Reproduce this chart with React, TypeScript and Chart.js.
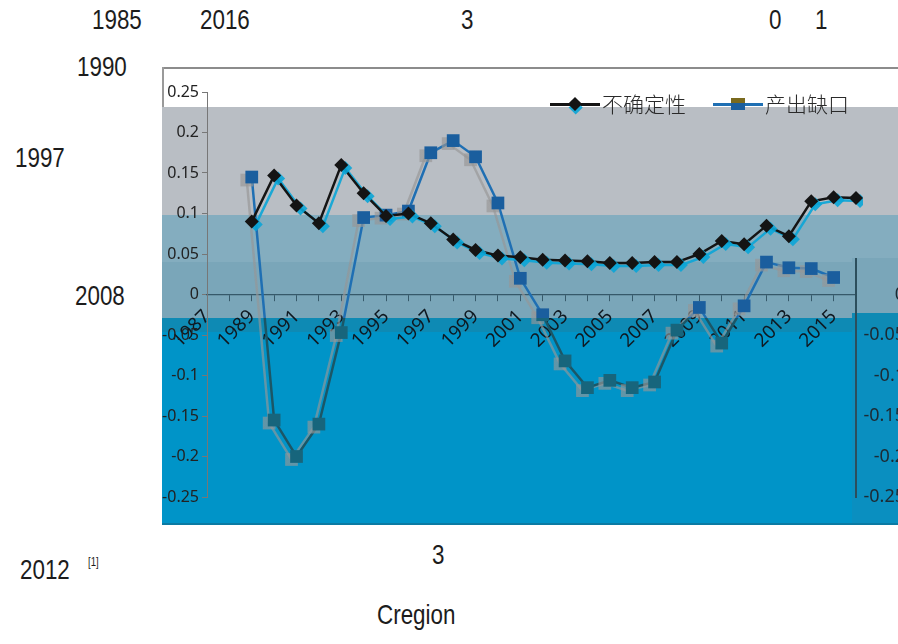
import React, { useEffect, useRef } from "react";
import { Chart, registerables } from "chart.js";

Chart.register(...registerables);

// ---------- data ----------
const years = [
  1987, 1988, 1989, 1990, 1991, 1992, 1993, 1994, 1995, 1996,
  1997, 1998, 1999, 2000, 2001, 2002, 2003, 2004, 2005, 2006,
  2007, 2008, 2009, 2010, 2011, 2012, 2013, 2014, 2015, 2016,
];
const seriesNames = ["不确定性", "产出缺口"];
const uncertainty: (number | null)[] = [
  null, null, 0.09, 0.147, 0.11, 0.088, 0.16, 0.125, 0.097, 0.1,
  0.088, 0.068, 0.055, 0.048, 0.046, 0.043, 0.042, 0.041, 0.039, 0.039,
  0.04, 0.04, 0.05, 0.066, 0.062, 0.085, 0.072, 0.115, 0.12, 0.119,
];
const outputGap: (number | null)[] = [
  null, null, 0.145, -0.155, -0.2, -0.16, -0.047, 0.095, 0.098, 0.103,
  0.175, 0.19, 0.17, 0.113, 0.02, -0.025, -0.082, -0.115, -0.106, -0.115,
  -0.108, -0.044, -0.016, -0.06, -0.014, 0.04, 0.033, 0.032, 0.021, null,
];
const axisMin = -0.25;
const axisMax = 0.25;
const axisStep = 0.05;

const fmt = (v: number) => {
  const r = Math.round(v * 100) / 100;
  return r === 0 ? "0" : String(r);
};

function T(props: { x: number; y: number; size?: number; children: React.ReactNode }) {
  const size = props.size ?? 28;
  return (
    <div
      style={{
        position: "absolute",
        left: props.x,
        top: props.y - size * 0.58,
        fontFamily: '"Liberation Sans", Arial, sans-serif',
        fontSize: size,
        lineHeight: "1.15",
        color: "#1c1c1c",
        whiteSpace: "nowrap",
        transform: "scaleX(0.8)",
        transformOrigin: "left center",
      }}
    >
      {props.children}
    </div>
  );
}

const CANVAS_W = 820;
const CANVAS_H = 457;

export default function App() {
  const ref = useRef<HTMLCanvasElement>(null);

  useEffect(() => {
    const canvas = ref.current;
    if (!canvas) return;
    const ctx = canvas.getContext("2d")!;
    const mk = (stops: [number, string][]) => {
      const g = ctx.createLinearGradient(0, 0, 0, CANVAS_H);
      stops.forEach(([o, c]) => g.addColorStop(o, c));
      return g;
    };
    const split = 250 / CANVAS_H;
    const gapLine = mk([[0, "#1f6fb3"], [split, "#1f6fb3"], [split, "#1b5666"], [1, "#1b5666"]]);
    const gapPoint = mk([[0, "#1a5e9e"], [split, "#1a5e9e"], [split, "#17657c"], [1, "#17657c"]]);
    const rightBorder = mk([[0, "rgba(0,0,0,0)"], [190 / CANVAS_H, "rgba(0,0,0,0)"], [190 / CANVAS_H, "#2c4e5c"], [1, "#2c4e5c"]]);

    const ghost = {
      id: "ghost",
      beforeDatasetDraw(chart: any, args: any) {
        const c = chart.ctx;
        c.save();
        c.shadowBlur = 0;
        if (args.index === 0) {
          c.shadowColor = "rgba(10,165,215,0.9)";
          c.shadowOffsetX = 4;
          c.shadowOffsetY = 3;
        } else {
          c.shadowColor = "rgba(150,150,150,0.65)";
          c.shadowOffsetX = -5;
          c.shadowOffsetY = 3;
        }
      },
      afterDatasetDraw(chart: any) {
        chart.ctx.restore();
      },
    };

    const chart = new Chart(canvas, {
      type: "line",
      data: {
        labels: years.map(String),
        datasets: [
          {
            label: seriesNames[0],
            data: uncertainty,
            yAxisID: "y",
            borderColor: "#141414",
            backgroundColor: "#141414",
            borderWidth: 2.5,
            pointStyle: "rectRot",
            pointRadius: 7,
            pointBackgroundColor: "#141414",
            pointBorderColor: "#141414",
            pointBorderWidth: 0,
            tension: 0,
          },
          {
            label: seriesNames[1],
            data: outputGap,
            yAxisID: "y1",
            borderColor: gapLine as any,
            backgroundColor: gapPoint as any,
            borderWidth: 2.5,
            pointStyle: "rect",
            pointRadius: 9,
            pointBackgroundColor: gapPoint as any,
            pointBorderColor: gapPoint as any,
            pointBorderWidth: 0,
            tension: 0,
          },
        ],
      },
      options: {
        animation: false,
        responsive: false,
        layout: { padding: { left: 0, right: 15, top: 24, bottom: 28 } },
        plugins: {
          legend: { display: false },
          tooltip: { enabled: false },
        },
        scales: {
          x: {
            type: "category",
            position: { y: 0 } as any,
            offset: false,
            grid: { display: true, drawOnChartArea: false, drawTicks: true, tickLength: 6, color: "#36596a" },
            border: { display: true, color: "#36596a", width: 1.2 },
            ticks: {
              autoSkip: false,
              maxRotation: 45,
              minRotation: 45,
              padding: 5,
              color: "#0f1820",
              font: { family: "Noto Sans", size: 19 },
              callback: (_v: any, i: number) => (years[i] % 2 === 1 ? String(years[i]) : ""),
            },
          },
          y: {
            position: "left",
            min: axisMin,
            max: axisMax,
            ticks: {
              stepSize: axisStep,
              color: "#222",
              padding: 3,
              font: { family: "Noto Sans", size: 16 },
              callback: (v: any) => fmt(Number(v)),
            },
            grid: { drawOnChartArea: false, tickLength: 5, color: "#777" },
            border: { display: true, color: "#777", width: 1 },
            afterFit: (s: any) => {
              s.width = 107;
            },
          },
          y1: {
            position: "right",
            min: axisMin,
            max: axisMax,
            ticks: {
              stepSize: axisStep,
              color: "#1d2a33",
              crossAlign: "far",
              padding: 4,
              font: { family: "Noto Sans", size: 18 },
              callback: (v: any) => (Number(v) <= 0.0001 ? fmt(Number(v)) : ""),
            },
            grid: { drawOnChartArea: false, drawTicks: false },
            border: { display: true, color: rightBorder as any, width: 2 },
            afterFit: (s: any) => {
              s.width = 49;
            },
          },
        },
      },
      plugins: [ghost],
    });
    return () => chart.destroy();
  }, []);

  const band = (top: number, height: number, bg: string, left = 162, width = 736) => (
    <div style={{ position: "absolute", left, top, width, height, background: bg }} />
  );

  const legendText: React.CSSProperties = {
    position: "absolute",
    top: 90,
    fontFamily: '"Noto Sans CJK SC", sans-serif',
    fontSize: 21,
    fontWeight: 300,
    lineHeight: "26px",
    color: "#2a2a2a",
    whiteSpace: "nowrap",
  };

  return (
    <div
      style={{
        position: "absolute",
        left: 0,
        top: 0,
        width: 898,
        height: 644,
        overflow: "hidden",
        background: "#ffffff",
      }}
    >
      {/* chart box frame */}
      <div style={{ position: "absolute", left: 162, top: 67, width: 736, height: 2, background: "#8c8c8c" }} />
      <div style={{ position: "absolute", left: 162, top: 67, width: 2, height: 42, background: "#9a9a9a" }} />
      {/* coloured bands */}
      {band(107, 108, "#b9bec4")}
      {band(215, 47, "#84adbf")}
      {band(262, 56, "#7aa6b9")}
      {band(318, 14, "#0e8ab4")}
      {band(332, 193, "#0094c8")}
      {band(258, 267, "#0a8fc0", 852, 46)}
      {band(258, 60, "#7aa6b9", 852, 46)}
      {band(313, 17, "#0e8ab4", 852, 46)}
      <div style={{ position: "absolute", left: 162, top: 523, width: 736, height: 2, background: "#0b7aa3" }} />

      {/* chart */}
      <div style={{ position: "absolute", left: 162, top: 68, width: 736, height: CANVAS_H, overflow: "hidden" }}>
        <canvas
          ref={ref}
          width={CANVAS_W}
          height={CANVAS_H}
          style={{ position: "absolute", left: -62, top: 0, width: CANVAS_W, height: CANVAS_H }}
        />
      </div>

      {/* legend */}
      <div style={{ position: "absolute", left: 550, top: 103, width: 50, height: 3, background: "#141414" }} />
      <div
        style={{
          position: "absolute",
          left: 570,
          top: 99,
          width: 10,
          height: 10,
          background: "#141414",
          transform: "rotate(45deg)",
          boxShadow: "3px 2px 0 rgba(10,165,215,0.9)",
        }}
      />
      <div style={{ ...legendText, left: 602 }}>{seriesNames[0]}</div>
      <div style={{ position: "absolute", left: 713, top: 103, width: 50, height: 3, background: "#1f6fb3" }} />
      <div
        style={{
          position: "absolute",
          left: 731,
          top: 98,
          width: 14,
          height: 12,
          background: "linear-gradient(#7a6a1e 0 45%, #1a5e9e 45% 100%)",
        }}
      />
      <div style={{ ...legendText, left: 765 }}>{seriesNames[1]}</div>

      {/* surrounding text */}
      <T x={92} y={20}>1985</T>
      <T x={200} y={20}>2016</T>
      <T x={461} y={20}>3</T>
      <T x={769} y={20}>0</T>
      <T x={815} y={20}>1</T>
      <T x={77} y={67}>1990</T>
      <T x={15} y={158}>1997</T>
      <T x={75} y={296}>2008</T>
      <T x={20} y={570}>2012</T>
      <T x={88} y={563} size={12}>[1]</T>
      <T x={432} y={555}>3</T>
      <T x={377} y={615}>Cregion</T>
    </div>
  );
}
